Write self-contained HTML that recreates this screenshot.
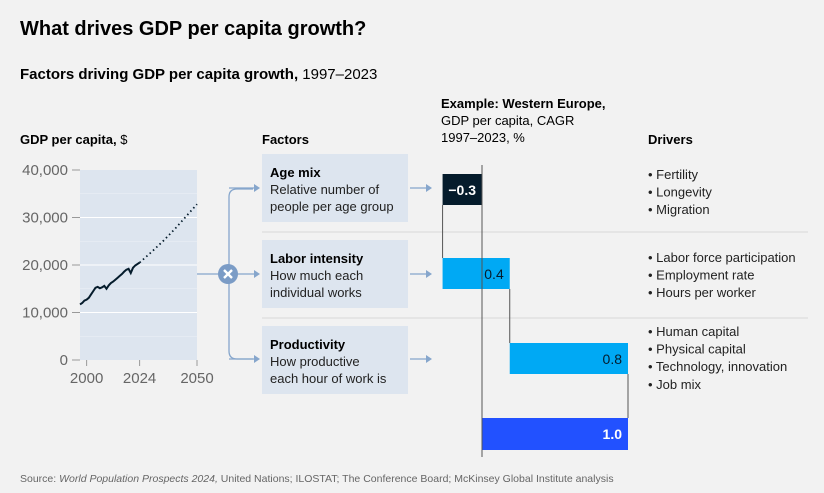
<!DOCTYPE html>
<html><head><meta charset="utf-8"><style>
body{margin:0;background:#f2f2f2;}
svg{display:block;font-family:"Liberation Sans",Arial,sans-serif;}
</style></head><body>
<svg id="s" width="824" height="493" viewBox="0 0 824 493" xmlns="http://www.w3.org/2000/svg">
<rect width="824" height="493" fill="#f2f2f2"/>
<text x="20" y="35" font-size="20" font-weight="bold" fill="#000">What drives GDP per capita growth?</text>
<text x="20" y="79" font-size="15" fill="#000"><tspan font-weight="bold">Factors driving GDP per capita growth,</tspan> 1997–2023</text>
<text x="20" y="144" font-size="13" fill="#000"><tspan font-weight="bold">GDP per capita,</tspan> $</text>
<text x="262" y="144" font-size="13" font-weight="bold" fill="#000">Factors</text>
<text x="441" y="108" font-size="13" fill="#000"><tspan font-weight="bold">Example: Western Europe,</tspan><tspan x="441" dy="17">GDP per capita, CAGR</tspan><tspan x="441" dy="17">1997–2023, %</tspan></text>
<text x="648" y="144" font-size="13" font-weight="bold" fill="#000">Drivers</text>
<g id="line-chart"></g>
<g id="flow"></g>
<g id="wf"></g>
<g id="drv"></g>
<text x="20" y="482" font-size="10.5" fill="#666">Source: <tspan font-style="italic">World Population Prospects 2024,</tspan> United Nations; ILOSTAT; The Conference Board; McKinsey Global Institute analysis</text>
</svg>
<script>
const histYears=[1997,1998,1999,2000,2001,2002,2003,2004,2005,2006,2007,2008,2009,2010,2011,2012,2013,2014,2015,2016,2017,2018,2019,2020,2021,2022,2023,2024];
const histGdp=[11700,12000,12500,12700,13100,13800,14500,15200,15400,15100,15300,15600,15000,15700,16200,16500,16900,17300,17700,18100,18600,19000,19200,18300,19400,19900,20200,20500];
const projYears=[2024,2030,2035,2040,2045,2050];
const projGdp=[20500,23000,25200,27600,30200,32800];
const yTicks=[0,10000,20000,30000,40000];
const yTickLabels=["0","10,000","20,000","30,000","40,000"];
const xTicks=[2000,2024,2050];
const factorNames=["Age mix","Labor intensity","Productivity"];
const factorDesc=[["Relative number of","people per age group"],["How much each","individual works"],["How productive","each hour of work is"]];
const wfValues=[-0.27,0.46,0.81];
const wfLabels=["−0.3","0.4","0.8"];
const totalLabel="1.0";
const drivers=[["Fertility","Longevity","Migration"],["Labor force participation","Employment rate","Hours per worker"],["Human capital","Physical capital","Technology, innovation","Job mix"]];

const NS="http://www.w3.org/2000/svg";
function mk(p,t,a,txt){const e=document.createElementNS(NS,t);for(const k in a)e.setAttribute(k,a[k]);if(txt!=null)e.textContent=txt;p.appendChild(e);return e;}
// line chart
const lc=document.getElementById('line-chart');
const X=y=>80+(y-1997)*(117/53), Y=v=>360-v*(190/40000);
let e=mk(lc,'rect',{x:80,y:170,width:117,height:190,fill:'#dde5ef'});

for(let v=5000;v<40000;v+=5000){
 e=mk(lc,'line',{x1:80,x2:197,y1:Y(v),y2:Y(v),stroke:'#fff','stroke-width':v%10000?0.4:1,opacity:v%10000?0.6:1});
 
}
yTicks.forEach((v,i)=>{
 e=mk(lc,'line',{x1:72,x2:80,y1:Y(v),y2:Y(v),stroke:'#999'});
 
 e=mk(lc,'text',{x:68,y:Y(v)+5,'text-anchor':'end','font-size':15,fill:'#666'},yTickLabels[i]);
 
});
xTicks.forEach(t=>{
 e=mk(lc,'line',{x1:X(t),x2:X(t),y1:360,y2:366,stroke:'#999'});
 
 e=mk(lc,'text',{x:X(t),y:383,'text-anchor':'middle','font-size':15,fill:'#666'},String(t));
 
});
e=mk(lc,'polyline',{points:histYears.map((y,i)=>X(y)+','+Y(histGdp[i])).join(' '),fill:'none',stroke:'#051c2c','stroke-width':2});

e=mk(lc,'polyline',{points:projYears.map((y,i)=>X(y)+','+Y(projGdp[i])).join(' '),fill:'none',stroke:'#051c2c','stroke-width':1.8,'stroke-dasharray':'1.5 3'});


// flow
const fl=document.getElementById('flow');
const col='#86a6cc';
const rowY=[188,274,359], boxY=[154,240,326];
mk(fl,'line',{x1:197,x2:227,y1:274,y2:274,stroke:col,'stroke-width':1.3});
e=mk(fl,'path',{d:'M253 189 H237 Q229 189 229 197 V351 Q229 359 237 359 H253',fill:'none',stroke:col,'stroke-width':1.3});

function arrow(x1,x2,y){mk(fl,'line',{x1:x1,x2:x2-5,y1:y,y2:y,stroke:col,'stroke-width':1.3});mk(fl,'path',{d:`M${x2-6} ${y-4} L${x2} ${y} L${x2-6} ${y+4}Z`,fill:col});}
rowY.forEach(y=>arrow(229,260,y));
e=mk(fl,'circle',{cx:228,cy:274,r:10,fill:'#7b9cc6'});

mk(fl,'path',{d:'M224 270 L232 278 M232 270 L224 278',stroke:'#fff','stroke-width':2.4});
factorNames.forEach((n,i)=>{
 e=mk(fl,'rect',{x:262,y:boxY[i],width:146,height:68,fill:'#dde5ef'});
 
 e=mk(fl,'text',{x:270,y:boxY[i]+23,'font-size':13,'font-weight':'bold',fill:'#000'},n);
 
 factorDesc[i].forEach((d,j)=>{e=mk(fl,'text',{x:270,y:boxY[i]+40+j*17,'font-size':13,fill:'#222'},d);
 });
 arrow(410,432,rowY[i]);
});
[232,318].forEach(y=>{e=mk(fl,'line',{x1:262,x2:808,y1:y,y2:y,stroke:'#d8d8d8','stroke-width':1});
 });

// waterfall
const wf=document.getElementById('wf');
const Z=482, S=146, W=v=>Z+v*S;
const barY=[174,258,343], barH=31, colors=['#051c2c','#00a9f4','#00a9f4'];
let cum=0;
wfValues.forEach((v,i)=>{
 const a=W(cum), b=W(cum+v);
 const x0=Math.min(a,b), x1=Math.max(a,b);
 e=mk(wf,'rect',{x:x0,y:barY[i],width:x1-x0,height:barH,fill:colors[i]});
 
 e=mk(wf,'text',{x:x1-6,y:barY[i]+21,'text-anchor':'end','font-size':14,fill:i==0?'#fff':'#051c2c','font-weight':i==0?'bold':'normal'},wfLabels[i]);
 
 const nextY=i<2?barY[i+1]:418;
 e=mk(wf,'line',{x1:b,x2:b,y1:barY[i]+barH,y2:nextY,stroke:'#555','stroke-width':1});
 
 cum+=v;
});
e=mk(wf,'rect',{x:Z,y:418,width:W(cum)-Z,height:32,fill:'#2251ff'});

e=mk(wf,'text',{x:W(cum)-6,y:439,'text-anchor':'end','font-size':14,'font-weight':'bold',fill:'#fff'},totalLabel);

e=mk(wf,'line',{x1:Z,x2:Z,y1:165,y2:457,stroke:'#555','stroke-width':1});


// drivers
const dv=document.getElementById('drv');
const drvY=[179,262,336];
drivers.forEach((g,i)=>g.forEach((d,j)=>{
 e=mk(dv,'text',{x:648,y:drvY[i]+j*17.6,'font-size':13,fill:'#222'},'• '+d);
 
}));
</script>
</body></html>
